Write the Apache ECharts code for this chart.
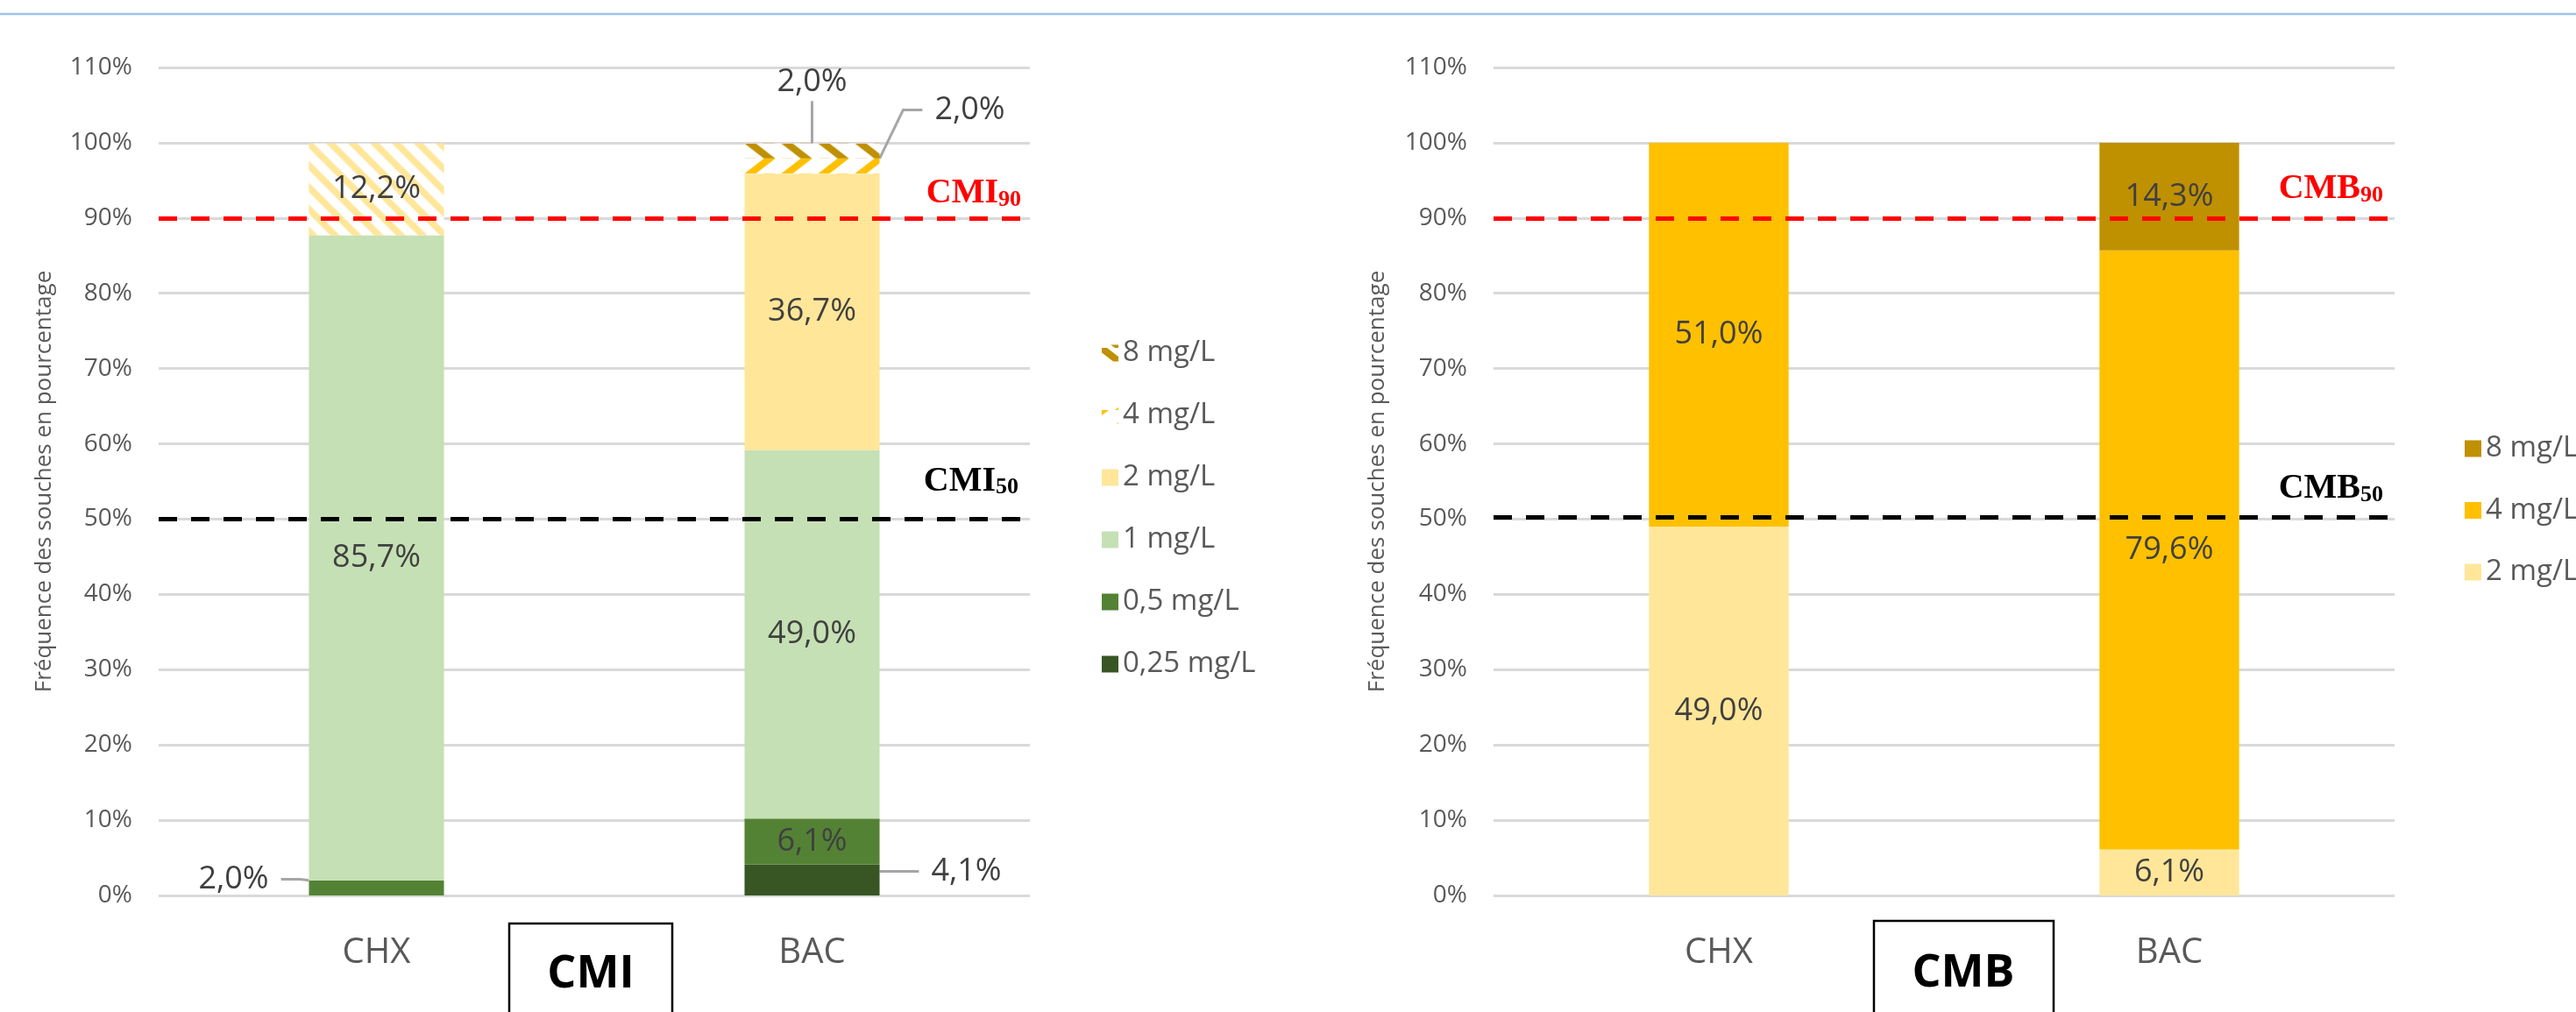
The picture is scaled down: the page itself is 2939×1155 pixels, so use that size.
<!DOCTYPE html>
<html>
<head>
<meta charset="utf-8">
<script src="https://cdn.jsdelivr.net/npm/echarts@6/dist/echarts.min.js"></script>
<style>
html,body{margin:0;padding:0;background:#ffffff;}
#chart{width:2939px;height:1155px;}
</style>
</head>
<body>
<div id="chart"></div>
<script>
// ================= DATA =================
const categories = ['CHX', 'BAC'];
const yAxisMin = 0, yAxisMax = 110, yAxisStep = 10;

const cmiNames = ['0,25 mg/L', '0,5 mg/L', '1 mg/L', '2 mg/L', '4 mg/L', '8 mg/L'];
const cmi025 = [0, 4.1];
const cmi05  = [2.0, 6.1];
const cmi1   = [85.7, 49.0];
const cmi2   = [12.2, 36.7];
const cmi4   = [0, 2.0];
const cmi8   = [0, 2.0];

const cmbNames = ['2 mg/L', '4 mg/L', '8 mg/L'];
const cmb2 = [49.0, 6.1];
const cmb4 = [51.0, 79.6];
const cmb8 = [0, 14.3];

const cmiRefValues = [90, 50];
const cmbRefValues = [90, 50.3];
const refSubs = ['90', '50'];
const yTitle = 'Fréquence des souches en pourcentage';
const boxTitles = ['CMI', 'CMB'];
const legendOrderCMI = ['8 mg/L', '4 mg/L', '2 mg/L', '1 mg/L', '0,5 mg/L', '0,25 mg/L'];
const legendOrderCMB = ['8 mg/L', '4 mg/L', '2 mg/L'];

// ================= STYLE =================
const FONT = '"Open Sans", "Noto Sans", "DejaVu Sans", sans-serif';
const SERIF = '"Liberation Serif", "Times New Roman", serif';
const palette = {
  '0,25 mg/L': '#375623', '0,5 mg/L': '#548235', '1 mg/L': '#C5E0B4',
  '2 mg/L': '#FFE699', '4 mg/L': '#FFC000', '8 mg/L': '#BF9000'
};
const W = 2939, H = 1155;
const gridPx = [{x0: 181, x1: 1175}, {x0: 1704, x1: 2732}];
const plotTop = 77, plotBottom = 1022;
const legendL = {left: 1257, top: 386, gap: 37, rowH: 34};
const legendR = {left: 2812, top: 495, gap: 36.5, rowH: 34};

const cmiValues = [cmi025, cmi05, cmi1, cmi2, cmi4, cmi8];
const cmbValues = [cmb2, cmb4, cmb8];

// label displacement (style only) for small segments
const cmiMoved = {
  '0,25 mg/L': {1: [176, -10]},
  '0,5 mg/L': {0: [-163, -10]},
  '4 mg/L': {1: [180, -64]},
  '8 mg/L': {1: [0, -79]}
};
const leaderLen = {'0,25 mg/L': 20, '0,5 mg/L': 22, '4 mg/L': 22, '8 mg/L': 0};

function fmt(v) { return v ? v.toFixed(1).replace('.', ',') + '%' : ''; }

function refMarkLine(vals) {
  return {
    silent: true, symbol: 'none', animation: false, z: 10,
    label: {show: false},
    lineStyle: {width: 5, type: [21, 16], cap: 'butt'},
    data: [
      {yAxis: vals[0], lineStyle: {color: '#FF0000', width: 5, type: [21, 16]}},
      {yAxis: vals[1], lineStyle: {color: '#000000', width: 5, type: [21, 16]}}
    ]
  };
}

function buildSeries(names, values, gi, stack, moved, patterns, refVals) {
  return names.map((name, si) => {
    const mv = (moved && moved[name]) || {};
    const pat = patterns && patterns[name];
    const s = {
      name: name, type: 'bar', stack: stack, xAxisIndex: gi, yAxisIndex: gi,
      barWidth: '31%',
      itemStyle: {color: (pat && pat.series) || palette[name]},
      label: {
        show: true, position: 'inside', formatter: p => fmt(p.value),
        color: '#404040', fontSize: 36, fontFamily: FONT
      },
      labelLayout: p => { const m = mv[p.dataIndex]; return m ? {dx: m[0], dy: m[1]} : {}; },
      emphasis: {disabled: true},
      data: values[si].map((v, i) => {
        const it = {value: v};
        if (mv[i]) {
          it.label = {padding: [4, 14, 4, 14], backgroundColor: 'rgba(255,255,255,0)'};
          it.labelLine = {show: true, length2: leaderLen[name], lineStyle: {color: '#A6A6A6', width: 3}};
        }
        if (pat && pat.items && pat.items[i]) it.itemStyle = {color: pat.items[i]};
        return it;
      })
    };
    if (si === names.length - 1) s.markLine = refMarkLine(refVals);
    return s;
  });
}

function axisPair(gi) {
  return {
    x: {
      type: 'category', gridIndex: gi, data: categories,
      axisLine: {show: false}, axisTick: {show: false},
      axisLabel: {color: '#595959', fontSize: 40, fontFamily: FONT, margin: 46}
    },
    y: {
      type: 'value', gridIndex: gi, min: yAxisMin, max: yAxisMax, interval: yAxisStep,
      axisLine: {show: false}, axisTick: {show: false},
      axisLabel: {color: '#595959', fontSize: 28, fontFamily: FONT, margin: 30, formatter: v => v + '%'},
      splitLine: {show: true, lineStyle: {color: '#D9D9D9', width: 3}}
    }
  };
}

function buildOption(patterns, graphics) {
  const a0 = axisPair(0), a1 = axisPair(1);
  const legendText = {color: '#595959', fontSize: 33, fontFamily: FONT, lineHeight: 34};
  const legIcons = (patterns && patterns.legend) || {};
  return {
    animation: false,
    backgroundColor: '#ffffff',
    textStyle: {fontFamily: FONT},
    grid: gridPx.map(g => ({left: g.x0, right: W - g.x1, top: plotTop, bottom: H - plotBottom, outerBoundsMode: 'none', containLabel: false})),
    xAxis: [a0.x, a1.x],
    yAxis: [a0.y, a1.y],
    legend: [
      {
        orient: 'vertical', left: legendL.left, top: legendL.top, itemWidth: 19, itemHeight: 19, itemGap: legendL.gap,
        padding: 0, icon: 'rect', textStyle: legendText, selectedMode: false,
        data: legendOrderCMI.map(n => legIcons[n] ? {name: n, itemStyle: {color: legIcons[n]}} : n)
      },
      {
        orient: 'vertical', left: legendR.left, top: legendR.top, itemWidth: 19, itemHeight: 19, itemGap: legendR.gap,
        padding: 0, icon: 'rect', textStyle: legendText, selectedMode: false,
        data: legendOrderCMB.map(n => ({name: n, itemStyle: {color: palette[n], decal: 'none'}}))
      }
    ],
    series: buildSeries(cmiNames, cmiValues, 0, 'cmi', cmiMoved, patterns, cmiRefValues)
      .concat(buildSeries(cmbNames, cmbValues, 1, 'cmb', null, null, cmbRefValues)),
    graphic: graphics || []
  };
}

const chart = echarts.init(document.getElementById('chart'), null, {renderer: 'canvas', width: W, height: H});
chart.setOption(buildOption(null, []));

// ---------- second pass: patterns and annotations positioned through the axes ----------
function makeCanvas(w, h, draw) {
  const c = document.createElement('canvas');
  c.width = w; c.height = h;
  const g = c.getContext('2d');
  g.fillStyle = '#ffffff'; g.fillRect(0, 0, w, h);
  draw(g);
  return c;
}
const px = (gi, cat, v) => chart.convertToPixel({gridIndex: gi}, [cat, v]);
const cum = (arrs, upto, i) => arrs.slice(0, upto).reduce((s, a) => s + a[i], 0);

const catW = px(0, 'BAC', 0)[0] - px(0, 'CHX', 0)[0];
const bw = catW * 0.31;
const bacLeft = px(0, 'BAC', 0)[0] - bw / 2;
const chxLeft = px(0, 'CHX', 0)[0] - bw / 2;
const top4 = px(0, 'BAC', cum(cmiValues, 5, 1))[1];
const bot4 = px(0, 'BAC', cum(cmiValues, 4, 1))[1];
const top8 = px(0, 'BAC', cum(cmiValues, 6, 1))[1];
const bandH = Math.max(2, Math.round(bot4 - top4));
const top2chx = px(0, 'CHX', cum(cmiValues, 4, 0))[1];

const tile8 = makeCanvas(42, bandH, g => {
  g.fillStyle = palette['8 mg/L'];
  g.beginPath(); g.moveTo(0, 0); g.lineTo(13, 0); g.lineTo(35, bandH); g.lineTo(22, bandH); g.closePath(); g.fill();
});
const tile4 = makeCanvas(42, bandH, g => {
  g.fillStyle = palette['4 mg/L'];
  g.beginPath(); g.moveTo(22, 0); g.lineTo(35, 0); g.lineTo(13, bandH); g.lineTo(0, bandH); g.closePath(); g.fill();
});
const P = 25;
const tileStripe = makeCanvas(P, P, g => {
  g.strokeStyle = palette['2 mg/L']; g.lineWidth = 7.5;
  for (let k = -1; k <= 1; k++) {
    g.beginPath(); g.moveTo(k * P - 3, -3); g.lineTo(k * P + P + 3, P + 3); g.stroke();
  }
});
// legend icon rows (centre of row i)
const rowTop = i => legendL.top + i * (legendL.rowH + legendL.gap) + (legendL.rowH - 19) / 2;
const patterns = {
  '8 mg/L': {series: {image: tile8, repeat: 'repeat', x: bacLeft, y: top8}},
  '4 mg/L': {series: {image: tile4, repeat: 'repeat', x: bacLeft, y: top4}},
  '2 mg/L': {items: {0: {image: tileStripe, repeat: 'repeat', x: chxLeft, y: top2chx}}},
  legend: {
    '8 mg/L': {image: tile8, repeat: 'repeat', x: legendL.left - 4, y: rowTop(0) + 1},
    '4 mg/L': {image: tile4, repeat: 'repeat', x: legendL.left - 24, y: rowTop(1) - 2}
  }
};

function refLabel(gi, val, sub, color, dxRight, dyMid, mainTxt) {
  const p = px(gi, 'BAC', val);
  return {
    type: 'text', z: 20, silent: true,
    x: gridPx[gi].x1 - dxRight, y: p[1] - dyMid,
    style: {
      text: '{a|' + mainTxt + '}{b|' + sub + '}',
      align: 'right', textAlign: 'right', verticalAlign: 'middle', textVerticalAlign: 'middle',
      rich: {
        a: {fontFamily: SERIF, fontWeight: 'bold', fontSize: 40, lineHeight: 40, fill: color, color: color},
        b: {fontFamily: SERIF, fontWeight: 'bold', fontSize: 26, lineHeight: 22, verticalAlign: 'bottom', fill: color, color: color}
      }
    }
  };
}

const graphics = [
  {type: 'line', silent: true, shape: {x1: 0, y1: 16, x2: W, y2: 16}, style: {stroke: '#9DC3E6', lineWidth: 2.5}},
  {type: 'text', silent: true, x: 51, y: (plotTop + plotBottom) / 2, rotation: Math.PI / 2,
   style: {text: yTitle, font: '26px ' + FONT, fill: '#595959', align: 'center', textAlign: 'center', verticalAlign: 'middle', textVerticalAlign: 'middle'}},
  {type: 'text', silent: true, x: 1572, y: (plotTop + plotBottom) / 2, rotation: Math.PI / 2,
   style: {text: yTitle, font: '26px ' + FONT, fill: '#595959', align: 'center', textAlign: 'center', verticalAlign: 'middle', textVerticalAlign: 'middle'}},
  refLabel(0, cmiRefValues[0], refSubs[0], '#FF0000', 10, 28, 'CMI'),
  refLabel(0, cmiRefValues[1], refSubs[1], '#000000', 13, 43, 'CMI'),
  refLabel(1, cmbRefValues[0], refSubs[0], '#FF0000', 13, 33, 'CMB'),
  refLabel(1, cmbRefValues[1], refSubs[1], '#000000', 13, 32, 'CMB'),
  {type: 'rect', silent: true, shape: {x: 581, y: 1054, width: 186, height: 140}, style: {fill: '#ffffff', stroke: '#000000', lineWidth: 2.5}},
  {type: 'text', silent: true, x: 674, y: 1112,
   style: {text: boxTitles[0], font: 'bold 52px ' + FONT, fill: '#000000', align: 'center', textAlign: 'center', verticalAlign: 'middle', textVerticalAlign: 'middle'}},
  {type: 'rect', silent: true, shape: {x: 2138, y: 1051, width: 205, height: 140}, style: {fill: '#ffffff', stroke: '#000000', lineWidth: 2.5}},
  {type: 'text', silent: true, x: 2240, y: 1111,
   style: {text: boxTitles[1], font: 'bold 52px ' + FONT, fill: '#000000', align: 'center', textAlign: 'center', verticalAlign: 'middle', textVerticalAlign: 'middle'}}
];

chart.setOption(buildOption(patterns, graphics));
</script>
</body>
</html>
